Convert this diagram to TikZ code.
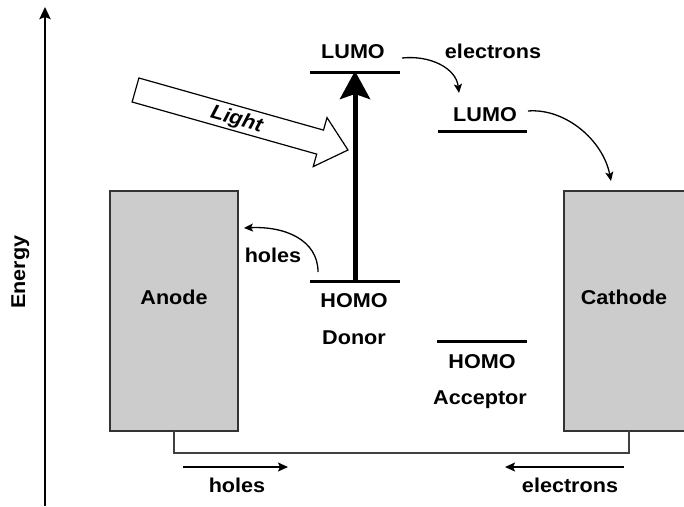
\documentclass[tikz,border=0pt]{standalone}
\usepackage{fontspec}
\setmainfont{Liberation Sans}[FakeStretch=1.08]
\usetikzlibrary{arrows.meta}
\definecolor{boxgray}{gray}{0.8}
\begin{document}
\begin{tikzpicture}[x=1pt,y=-1pt,
  font=\fontsize{20}{24}\selectfont\bfseries,
  lbl/.style={inner sep=0pt,text height=14.3pt,text depth=0pt},
  lvl/.style={line width=3pt},
  elbox/.style={fill=boxgray,draw=black!80,line width=1.5pt},
  wire/.style={line width=1.3pt,draw=black!75},
  thinarrow/.style={line width=1.3pt,-{Stealth[length=9pt,width=8pt,inset=2pt]}},
  flowarrow/.style={line width=1.3pt,-{Stealth[length=10pt,width=9pt,inset=2pt]}},
  axisarrow/.style={line width=2.5pt,-{Stealth[length=12pt,width=11pt,inset=2pt]}},
  bigarrow/.style={line width=5pt,-{Stealth[length=28pt,width=30pt,inset=5pt]}}]
\useasboundingbox (0,0) rectangle (684,506);
% energy axis
\coordinate (axbot) at (45,506);
\coordinate (axtop) at (45,7);
\draw[axisarrow] (axbot) -- (axtop);
\node[lbl,rotate=90] (energy) at (18,272) {Energy};
% electrodes
\draw[elbox] (110,191) rectangle (238,431);
\node[lbl] (anode) at (174,297) {Anode};
\fill[boxgray] (564,191) rectangle (684,431);
\draw[draw=black!80,line width=1.5pt] (684,191) -- (564,191) -- (564,431) -- (684,431);
\node[lbl] (cathode) at (624,297) {Cathode};
% external circuit
\coordinate (anodebot) at (174,431);
\coordinate (cathodebot) at (629,431);
\draw[wire] (anodebot) |- (400,453) -| (cathodebot);
\coordinate (h1) at (183,467);
\coordinate (h2) at (288,467);
\draw[flowarrow] (h1) -- (h2);
\node[lbl] (holesb) at (237,485) {holes};
\coordinate (e1) at (624,467);
\coordinate (e2) at (505,467);
\draw[flowarrow] (e1) -- (e2);
\node[lbl] (electronsb) at (570,485) {electrons};
% donor levels
\coordinate (dl1) at (310,72);
\coordinate (dl2) at (400,72);
\draw[lvl] (dl1) -- (dl2);
\node[lbl] (dlumo) at (353,51) {LUMO};
\coordinate (dh1) at (310,281);
\coordinate (dh2) at (400,281);
\draw[lvl] (dh1) -- (dh2);
\node[lbl] (dhomo) at (354,300) {HOMO};
\node[lbl] (donor) at (354,337) {Donor};
% excitation
\coordinate (exbot) at (355,281);
\coordinate (extop) at (355,71);
\draw[bigarrow] (exbot) -- (extop);
% acceptor levels
\coordinate (al1) at (438,131);
\coordinate (al2) at (527,131);
\draw[lvl] (al1) -- (al2);
\node[lbl] (alumo) at (485,114) {LUMO};
\coordinate (ah1) at (437,341);
\coordinate (ah2) at (527,341);
\draw[lvl] (ah1) -- (ah2);
\node[lbl] (ahomo) at (482,361) {HOMO};
\node[lbl] (acceptor) at (480,397) {Acceptor};
% electron transfer
\node[lbl] (electronst) at (493,51) {electrons};
\coordinate (et1) at (402,58);
\coordinate (et2) at (459,93);
\draw[thinarrow] (et1) .. controls (430,55) and (456,68) .. (et2);
\coordinate (ec1) at (528,111);
\coordinate (ec2) at (611,181);
\draw[thinarrow] (ec1) .. controls (565,108) and (603,140) .. (ec2);
% hole transfer
\coordinate (ht1) at (318,272);
\coordinate (ht2) at (244,228);
\draw[thinarrow] (ht1) .. controls (318,240) and (285,226) .. (ht2);
\node[lbl] (holesm) at (273,255) {holes};
% light
\draw[line width=1.2pt,fill=white,line join=miter]
  (138.9,78) -- (323.5,130.1) -- (327.0,117.6) -- (348,150)
  -- (313.2,166.6) -- (316.7,154.1) -- (132.1,102) -- cycle;
\node[lbl,rotate=-15.7,font=\fontsize{20}{24}\selectfont\bfseries\itshape] (light) at (237,118) {Light};
\end{tikzpicture}
\end{document}
